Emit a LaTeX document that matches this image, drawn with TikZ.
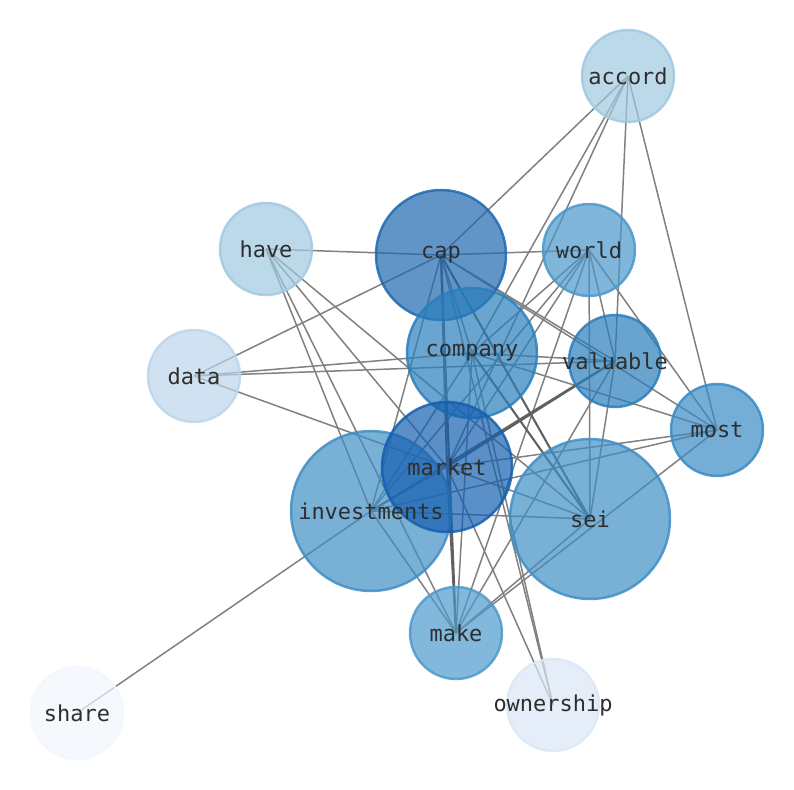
\documentclass[tikz,border=0pt]{standalone}
\usepackage{fontspec}
\newfontfamily\wordfont{DejaVu Sans Mono}
\usetikzlibrary{backgrounds}
\definecolor{cAccord}{HTML}{A0C9E1}
\definecolor{cHave}{HTML}{A0C9E1}
\definecolor{cCap}{HTML}{1E68B1}
\definecolor{cWorld}{HTML}{4A97CA}
\definecolor{cData}{HTML}{BCD5EB}
\definecolor{cCompany}{HTML}{297FBC}
\definecolor{cValuable}{HTML}{2A7DBB}
\definecolor{cMost}{HTML}{398BC5}
\definecolor{cMarket}{HTML}{155FAF}
\definecolor{cInvest}{HTML}{3F8EC5}
\definecolor{cSei}{HTML}{3F8EC5}
\definecolor{cMake}{HTML}{4C9ACC}
\definecolor{cOwner}{HTML}{DAE7F5}
\definecolor{cShare}{HTML}{F1F7FE}
\tikzset{
  every picture/.style={line join=round, line cap=round},
  word/.style={circle, fill=#1, draw=#1, fill opacity=0.7, draw opacity=0.85,
    line width=1.4pt, inner sep=0pt},
  small/.style={minimum size=1.84cm},
  mid/.style={minimum size=2.6cm},
  big/.style={minimum size=3.2cm},
  wordtext/.style={inner sep=0pt, text=black!82,
    font=\wordfont\fontsize{12.5}{14}\selectfont},
  link/.style={gray, line width=0.85pt},
  heavy link/.style={black!62, line width=1.2pt},
}

\begin{document}
\begin{tikzpicture}[x=0.02cm,y=-0.02cm]
\useasboundingbox (0,0) rectangle (794,790);
\node[word=cAccord,small] (accord) at (628,76) {};
\node[word=cHave,small] (have) at (266,249) {};
\node[word=cCap,mid] (cap) at (441,255) {};
\node[word=cWorld,small] (world) at (589,250) {};
\node[word=cData,small] (data) at (194,376) {};
\node[word=cCompany,mid] (company) at (472,353) {};
\node[word=cValuable,small] (valuable) at (615,361) {};
\node[word=cMost,small] (most) at (717,430) {};
\node[word=cInvest,big] (investments) at (371,511) {};
\node[word=cMarket,mid] (market) at (447,467) {};
\node[word=cSei,big] (sei) at (590,519) {};
\node[word=cMake,small] (make) at (456,633) {};
\node[word=cOwner,small] (ownership) at (553,705) {};
\node[word=cShare,small] (share) at (77,713) {};
% labels on top of every circle
\foreach \n in {accord, have, cap, world, data, company, valuable, most,
  market, investments, sei, make, ownership, share}
  \node[wordtext] (\n-txt) at (\n) {\n};
\begin{scope}[on background layer]
% plain links
\foreach \a/\b in {accord/cap, accord/company, accord/market, accord/valuable, accord/most,
  have/cap, have/investments, have/make, have/market, have/sei,
  data/cap, data/company, data/valuable, data/sei,
  cap/world, cap/company, cap/investments, cap/valuable, cap/most, cap/ownership,
  world/company, world/investments, world/market, world/make, world/sei, world/valuable, world/most,
  company/most, company/valuable, company/investments, company/make, company/ownership,
  valuable/sei, valuable/make,
  most/investments, most/market, most/make,
  market/ownership, market/investments,
  investments/sei, investments/make, make/sei, share/investments}
  \draw[link] (\a.center) -- (\b.center);
% links drawn twice
\foreach \a/\b in {cap/market, cap/make, cap/sei, market/make, market/valuable,
  investments/valuable, company/sei}
  \draw[heavy link] (\a.center) -- (\b.center);
\end{scope}
\end{tikzpicture}
\end{document}
